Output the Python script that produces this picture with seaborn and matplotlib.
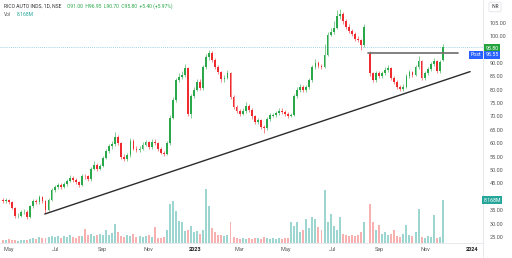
import numpy as np
import pandas as pd
import matplotlib
matplotlib.use("Agg")
import matplotlib.pyplot as plt
import matplotlib.dates as mdates
import seaborn as sns

nan = np.nan
# ---------------- data ----------------
start_date = "2022-04-23"      # first candle
step = "4D"                    # one candle per 4 calendar days
opens = [
    39.0, 38.5, 38.8, 38.2, 36.0, 32.8, 33.0, 34.2, 34.5, 32.6,
    36.5, 38.5, 38.0, 40.0, 38.5, 35.2, 38.8, 42.5, 43.8, 44.4,
    43.8, 44.8, 46.0, 47.0, 46.3, 45.5, 44.4, 47.9, 47.6, 46.5,
    50.5, 52.0, 50.5, 51.5, 54.5, 57.0, 58.8, 59.6, 62.5, 60.0,
    55.0, 54.0, 55.5, 61.0, 58.0, 57.5, 58.0, 59.5, 60.4, 58.6,
    60.5, 60.0, 58.0, 56.5, 56.0, 60.0, 69.5, 76.0, 83.6, 84.8,
    85.4, 88.0, 71.0, 77.5, 80.0, 83.0, 80.6, 88.4, 92.0, 93.5,
    91.0, 88.5, 86.5, 83.8, 84.5, 86.0, 77.2, 73.5, 72.0, 71.0,
    72.0, 74.0, 72.4, 70.0, 68.0, 68.5, 66.0, 65.5, 69.0, 70.2,
    70.5, 71.3, 72.2, 71.8, 71.0, 70.3, 70.5, 77.5, 79.9, 81.0,
    79.9, 80.8, 83.5, 88.4, 90.0, 88.8, 88.3, 93.0, 100.5, 101.3,
    103.0, 107.5, 108.0, 105.5, 103.5, 101.8, 100.8, 99.0, 98.5, 96.5,
    nan, 93.7, 86.0, 83.6, 86.0, 85.0, 86.0, 87.3, 88.0, 84.5,
    82.8, 81.0, 80.3, 81.0, 85.0, 86.5, 85.4, 88.4, 90.5, 84.3,
    86.0, 87.5, 89.5, 90.5, 86.8, 91.0]
closes = [
    38.5, 38.8, 38.2, 36.0, 32.8, 33.0, 34.2, 34.5, 32.6, 36.5,
    38.5, 38.0, 40.0, 38.5, 35.2, 38.8, 42.5, 43.8, 44.4, 43.8,
    44.8, 46.0, 47.0, 46.3, 45.5, 44.4, 47.6, 47.6, 46.5, 50.5,
    52.0, 50.5, 51.5, 54.5, 57.0, 58.8, 59.6, 62.5, 60.0, 55.0,
    54.0, 55.5, 61.0, 58.0, 57.5, 58.0, 59.5, 60.4, 58.6, 60.5,
    60.0, 58.0, 56.5, 56.0, 60.0, 69.5, 76.0, 83.6, 84.8, 85.4,
    88.0, 71.0, 77.5, 80.0, 83.0, 80.6, 88.4, 92.0, 93.5, 91.0,
    88.5, 86.5, 83.8, 84.5, 86.0, 77.2, 73.5, 72.0, 71.0, 72.0,
    74.0, 72.4, 70.0, 68.0, 68.5, 66.0, 65.5, 69.0, 70.5, 70.5,
    71.3, 72.2, 71.8, 71.0, 70.3, 70.5, 77.5, 79.9, 81.0, 79.9,
    80.8, 83.5, 88.4, 90.0, 88.8, 88.3, 93.0, 100.5, 101.3, 103.0,
    107.5, 108.0, 105.5, 103.5, 101.8, 100.8, 99.0, 98.5, 96.5, 103.5,
    nan, 86.0, 83.6, 86.0, 85.0, 86.0, 87.3, 88.0, 84.5, 82.8,
    81.0, 80.3, 81.0, 85.0, 86.5, 85.4, 88.4, 90.5, 84.3, 86.0,
    87.5, 89.5, 90.5, 86.8, 90.4, 95.8]
highs = [
    39.6, 39.5, 39.3, 38.6, 36.4, 33.8, 35.0, 35.4, 35.0, 37.0,
    39.3, 39.2, 40.8, 40.5, 38.9, 39.4, 43.2, 44.6, 45.3, 45.0,
    45.6, 46.8, 48.0, 47.6, 46.9, 46.0, 48.4, 48.5, 48.2, 51.3,
    53.2, 52.6, 52.3, 55.3, 57.9, 59.7, 61.0, 64.0, 63.2, 60.5,
    55.8, 56.4, 61.8, 61.5, 58.8, 58.9, 60.3, 61.3, 60.9, 61.5,
    61.4, 60.5, 58.6, 57.2, 60.8, 70.5, 77.2, 84.5, 86.0, 86.8,
    89.5, 88.6, 78.3, 81.0, 84.0, 83.8, 89.2, 93.3, 94.8, 94.2,
    91.6, 89.2, 87.0, 85.5, 87.2, 86.6, 77.8, 74.3, 72.8, 73.0,
    75.5, 74.6, 73.0, 70.6, 69.5, 69.0, 66.8, 69.8, 71.4, 71.3,
    72.2, 73.2, 73.0, 72.5, 71.6, 71.4, 78.3, 80.8, 82.0, 81.6,
    81.8, 84.5, 89.3, 91.3, 90.6, 89.6, 97.0, 101.5, 102.8, 105.5,
    109.5, 110.0, 108.8, 106.2, 104.3, 102.6, 101.5, 99.8, 99.0, 104.6,
    nan, 94.2, 86.6, 87.0, 86.9, 87.0, 88.3, 89.0, 88.6, 85.2,
    83.4, 81.8, 81.9, 85.9, 87.4, 87.1, 89.3, 92.6, 91.0, 86.9,
    88.5, 90.4, 91.6, 91.0, 91.0, 96.95]
lows = [
    37.8, 37.9, 37.4, 35.4, 32.0, 32.1, 32.6, 33.6, 31.9, 32.3,
    36.0, 37.2, 37.5, 37.8, 34.0, 34.8, 38.4, 41.8, 43.1, 43.0,
    43.2, 44.2, 45.5, 45.6, 44.8, 43.6, 44.0, 46.8, 45.8, 46.0,
    50.0, 49.8, 49.9, 51.0, 54.0, 56.4, 58.0, 59.0, 59.2, 54.2,
    53.2, 53.4, 55.0, 57.3, 56.7, 56.9, 57.4, 58.8, 57.8, 58.0,
    59.2, 57.2, 55.8, 55.2, 55.6, 59.5, 69.0, 75.5, 82.8, 83.9,
    84.8, 70.2, 69.4, 76.8, 79.3, 79.8, 80.0, 87.8, 91.2, 90.2,
    87.6, 85.7, 83.0, 83.0, 83.9, 76.5, 72.7, 71.2, 70.2, 70.4,
    71.4, 71.6, 69.2, 67.2, 67.3, 65.2, 63.8, 65.0, 68.4, 69.6,
    69.8, 70.7, 71.0, 70.2, 69.5, 69.6, 70.0, 77.0, 79.2, 79.0,
    79.2, 80.2, 83.0, 87.8, 88.0, 87.5, 87.9, 92.5, 99.8, 100.6,
    102.5, 106.2, 104.6, 102.6, 101.0, 100.0, 98.2, 97.6, 94.6, 96.0,
    nan, 85.2, 82.8, 83.0, 84.2, 84.3, 85.5, 86.6, 83.7, 82.0,
    80.2, 79.5, 79.6, 80.5, 84.4, 84.6, 84.9, 87.8, 83.6, 83.7,
    85.4, 86.9, 88.8, 86.0, 86.2, 90.7]
volume_m = [
    0.6, 0.5, 0.7, 0.5, 0.6, 0.4, 0.5, 0.6, 0.5, 0.7,
    1.0, 0.8, 1.2, 1.0, 0.9, 1.1, 1.3, 1.2, 1.4, 1.0,
    1.3, 1.1, 1.5, 1.2, 1.0, 1.3, 1.4, 2.6, 1.5, 1.7,
    1.4, 1.6, 1.8, 1.5, 2.5, 1.6, 1.9, 3.6, 2.0, 1.4,
    1.2, 1.6, 1.3, 1.8, 1.1, 1.4, 1.2, 1.3, 1.5, 1.1,
    3.0, 1.0, 0.9, 1.1, 2.5, 7.5, 8.0, 6.0, 4.2, 4.0,
    2.2, 2.5, 3.2, 2.0, 2.2, 1.8, 2.5, 10.2, 7.0, 2.8,
    2.0, 1.6, 1.5, 1.4, 1.6, 4.0, 1.2, 0.9, 0.8, 1.0,
    0.7, 0.9, 0.8, 1.0, 0.9, 0.7, 1.1, 0.9, 0.8, 1.0,
    0.7, 0.9, 0.8, 1.0, 0.9, 4.0, 3.3, 4.0, 2.0, 2.5,
    4.5, 2.8, 5.0, 4.6, 3.0, 2.5, 10.0, 4.0, 5.6, 3.2,
    2.5, 5.0, 1.8, 1.5, 1.4, 1.6, 1.3, 1.5, 2.0, 4.0,
    nan, 7.5, 4.0, 2.5, 3.5, 1.8, 2.0, 1.5, 1.7, 2.5,
    1.4, 1.2, 1.8, 3.5, 1.5, 1.4, 2.0, 6.5, 1.2, 1.0,
    1.4, 1.2, 5.3, 1.0, 1.1, 8.168]

price_ticks = [25, 30, 35, 45, 50, 55, 60, 65, 70, 75, 80, 85, 90, 100, 105]
month_ticks = ["2022-05-01", "2022-07-01", "2022-09-01", "2022-11-01", "2023-01-01",
               "2023-03-01", "2023-05-01", "2023-07-01", "2023-09-01", "2023-11-01", "2024-01-01"]
month_labels = ["May", "Jul", "Sep", "Nov", "2023", "Mar", "May", "Jul", "Sep", "Nov", "2024"]
trend_dates = ["2022-06-17", "2023-12-30"]
trend_prices = [33.6, 86.7]
resist_dates = ["2023-08-17", "2023-12-14"]
resist_prices = [93.8, 93.8]
last_close = 95.8
post_price = 95.55
last_volume_label = "8.168M"

# ---------------- figure ----------------
sns.set_theme(style="white")
plt.rcParams["font.family"] = ["Roboto", "DejaVu Sans"]

W, H = 512, 258
fig = plt.figure(figsize=(W / 100, H / 100), dpi=100)
fig.patch.set_facecolor("white")
rect = [0, 15 / H, 483 / W, 243 / H]
vax = fig.add_axes(rect)
ax = fig.add_axes(rect)
vax.set_zorder(0)
ax.set_zorder(1)
ax.patch.set_alpha(0)

dates = pd.date_range(start_date, periods=len(closes), freq=step)
x = mdates.date2num(dates)
o = np.array(opens); c = np.array(closes); hi = np.array(highs); lo = np.array(lows)
vol = np.array(volume_m)
up = c >= o
col_up, col_dn = "#2aa84a", "#ef2b2f"
colors = np.where(up, col_up, col_dn)

# volume
vcols = np.where(up, "#26a69a", "#ef5350")
vax.bar(x, vol, width=2.6, color=vcols, alpha=0.45, linewidth=0)
vax.set_ylim(0, 46.2)
vax.set_yticks([])
vax.set_xticks([])
for s in vax.spines.values():
    s.set_visible(False)

# candles
ax.vlines(x, lo, hi, colors=colors, linewidth=0.5, alpha=0.8)
body = np.where(np.abs(c - o) < 0.25, 0.25, c - o)
ax.bar(x, body, bottom=o, width=2.4, color=colors, linewidth=0)

# trend lines
tl = pd.DataFrame({"d": mdates.date2num(pd.to_datetime(trend_dates)), "p": trend_prices})
rl = pd.DataFrame({"d": mdates.date2num(pd.to_datetime(resist_dates)), "p": resist_prices})
sns.lineplot(data=tl, x="d", y="p", ax=ax, color="#2b2b2b", linewidth=1.0)
sns.lineplot(data=rl, x="d", y="p", ax=ax, color="#777777", linewidth=1.3)
ax.axhline(last_close, color="#7cc6de", linestyle=(0, (1, 1.5)), linewidth=0.6, zorder=0)

ax.set_xlim(mdates.date2num(pd.Timestamp("2022-04-19")), mdates.date2num(pd.Timestamp("2024-01-16")))
vax.set_xlim(ax.get_xlim())
ax.set_ylim(22.8, 113.4)
ax.set_xlabel(""); ax.set_ylabel("")

ax.yaxis.tick_right()
ax.set_yticks(price_ticks)
ax.set_yticklabels([f"{t:.2f}" for t in price_ticks])
ax.tick_params(axis="y", length=0, pad=5, labelsize=4, labelcolor="#555555")
ax.set_xticks(mdates.date2num(pd.to_datetime(month_ticks)))
ax.set_xticklabels(month_labels)
ax.tick_params(axis="x", length=0, pad=3, labelsize=4, labelcolor="#555555")
for lab in ax.get_xticklabels():
    if lab.get_text() in ("2023", "2024"):
        lab.set_fontweight("bold")
        lab.set_color("#222222")
for s in ax.spines.values():
    s.set_visible(False)

def fx(px):
    return px / W

def fy(py):
    return 1 - py / H

# separators
fig.add_artist(plt.Line2D([0, fx(483)], [fy(243), fy(243)], color="#e3e5ea", linewidth=0.6))
fig.add_artist(plt.Line2D([fx(483), fx(483)], [0, 1], color="#e3e5ea", linewidth=0.6))

# header
fig.text(fx(4), fy(6), "RICO AUTO INDS, 1D, NSE", fontsize=3.6, color="#333333", va="center")
fig.text(fx(67), fy(6), "O91.00  H96.95  L90.70  C95.80  +5.40 (+5.97%)", fontsize=3.6,
         color="#2aa84a", va="center")
fig.text(fx(4), fy(14), "Vol", fontsize=3.6, color="#555555", va="center")
fig.text(fx(17), fy(14), last_volume_label, fontsize=3.6, color="#26a69a", va="center")

# INR box
fig.text(fx(495), fy(7), "INR", fontsize=3.4, color="#333333", va="center", ha="center",
         bbox=dict(boxstyle="round,pad=0.5,rounding_size=0.4", fc="white", ec="#d6d8de", lw=0.4))

# price labels
fig.text(fx(492), fy(48), f"{last_close:.2f}", fontsize=3.8, color="white", va="center", ha="center",
         bbox=dict(boxstyle="square,pad=0.3", fc="#22a33e", ec="none"))
fig.text(fx(476), fy(55), "Post", fontsize=3.8, color="white", va="center", ha="center",
         bbox=dict(boxstyle="square,pad=0.3", fc="#2962ff", ec="none"))
fig.text(fx(492), fy(55), f"{post_price:.2f}", fontsize=3.8, color="white", va="center", ha="center",
         bbox=dict(boxstyle="square,pad=0.3", fc="#2962ff", ec="none"))
fig.text(fx(492), fy(200), last_volume_label, fontsize=3.8, color="white", va="center", ha="center",
         bbox=dict(boxstyle="square,pad=0.3", fc="#26a69a", ec="none"))

fig.savefig("out.png", dpi=100)
